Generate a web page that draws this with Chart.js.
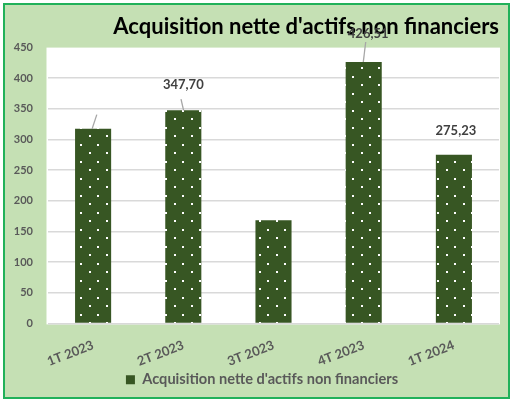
<!DOCTYPE html>
<html>
<head>
<meta charset="utf-8">
<script src="https://cdn.jsdelivr.net/npm/chart.js@4.4.1/dist/chart.umd.min.js"></script>
<style>
  html, body { margin: 0; padding: 0; width: 510px; height: 399px; overflow: hidden; background: #ffffff; }
  #frame { position: absolute; left: 3px; top: 3px; width: 503px; height: 392px;
           border: 2px solid #21b15a; background: #c5e0b4; }
  #wrap { position: absolute; left: 0; top: 0; width: 510px; height: 399px; }
</style>
</head>
<body>
<div id="frame"></div>
<div id="wrap"><canvas id="chart" width="510" height="399"></canvas></div>
<script>
// Quarterly net acquisition of non-financial assets
const categories = ['1T 2023', '2T 2023', '3T 2023', '4T 2023', '1T 2024'];
const seriesName = "Acquisition nette d'actifs non financiers";
const values = [317.4, 347.70, 168.3, 426.51, 275.23];
const yTickValues = [0, 50, 100, 150, 200, 250, 300, 350, 400, 450];
const showValueLabel = [false, true, false, true, true];

const FONT = 'Lato, "Open Sans", sans-serif';
const BAR_GREEN = '#375623';
const TEXT_GREY = '#595959';

// Dark green fill sprinkled with small white dots
function dottedFill() {
  const tile = document.createElement('canvas');
  tile.width = 17; tile.height = 17;
  const g = tile.getContext('2d');
  g.fillStyle = BAR_GREEN;
  g.fillRect(0, 0, 17, 17);
  g.fillStyle = '#ffffff';
  g.fillRect(4, 16, 2, 1);
  g.fillRect(4, 0, 2, 1);
  g.fillRect(12, 8, 2, 2);
  return g.createPattern(tile, 'repeat');
}

// Label placement relative to the top centre of each bar: [dx, dy]
const labelOffsets = [null, [0, -25], null, [4.5, -28.5], [2, -23.7]];
// Leader lines from label towards bar: [x1, y1, x2, y2] relative to bar top centre
const leaderLines = [[3.7, -14.2, -1, 0], [-2.3, -11.2, 0.3, 0], null, [2, -20, -0.4, 0], null];

const plotBackground = {
  id: 'plotBackground',
  beforeDraw(chart) {
    const { ctx, chartArea: a } = chart;
    ctx.save();
    ctx.fillStyle = '#ffffff';
    ctx.fillRect(a.left - 1.5, a.top, a.right - a.left + 2.5, a.bottom - a.top + 1);
    ctx.restore();
  }
};

// The legend sits centred under the plot rather than under the whole canvas
const legendShift = {
  id: 'legendShift',
  afterLayout(chart) {
    const lg = chart.legend;
    if (lg) { lg.left += 12.5; lg.right += 12.5; }
  }
};

const valueLabels = {
  id: 'valueLabels',
  afterDatasetsDraw(chart) {
    const { ctx } = chart;
    const bars = chart.getDatasetMeta(0).data;
    ctx.save();
    bars.forEach((bar, i) => {
      const ln = leaderLines[i];
      if (ln) {
        ctx.strokeStyle = '#a6a6a6';
        ctx.lineWidth = 1.3;
        ctx.beginPath();
        ctx.moveTo(bar.x + ln[0], bar.y + ln[1]);
        ctx.lineTo(bar.x + ln[2], bar.y + ln[3]);
        ctx.stroke();
      }
      if (showValueLabel[i]) {
        const off = labelOffsets[i];
        ctx.font = 'bold 13px ' + FONT;
        ctx.fillStyle = '#404040';
        ctx.textAlign = 'center';
        ctx.textBaseline = 'middle';
        ctx.fillText(values[i].toFixed(2).replace('.', ','), bar.x + off[0], bar.y + off[1]);
      }
    });
    ctx.restore();
  }
};

const ctx = document.getElementById('chart').getContext('2d');
new Chart(ctx, {
  type: 'bar',
  data: {
    labels: categories,
    datasets: [{
      label: seriesName,
      data: values,
      backgroundColor: dottedFill(),
      borderWidth: 0,
      barPercentage: 1,
      categoryPercentage: 0.4
    }]
  },
  options: {
    responsive: false,
    devicePixelRatio: 1,
    animation: false,
    layout: { padding: { left: 0, right: 11, top: 0, bottom: 2 } },
    scales: {
      x: {
        grid: { display: false, drawTicks: false },
        border: { display: false },
        ticks: {
          color: TEXT_GREY,
          font: { family: FONT, size: 13, weight: 'bold' },
          minRotation: 21,
          maxRotation: 21,
          padding: 14,
          autoSkip: false
        },
        afterFit(scale) { scale.height = 43; }
      },
      y: {
        min: 0,
        max: 450,
        afterBuildTicks(scale) { scale.ticks = yTickValues.map(v => ({ value: v })); },
        grid: {
          drawTicks: false,
          lineWidth: 1.5,
          color: c => (c.tick && c.tick.value === 450) ? 'rgba(0,0,0,0)' : '#d9d9d9'
        },
        border: { display: false },
        ticks: {
          color: TEXT_GREY,
          font: { family: FONT, size: 11, weight: 'bold' },
          padding: 15
        },
        afterFit(scale) { scale.width = 48; }
      }
    },
    plugins: {
      title: {
        display: true,
        text: seriesName,
        align: 'end',
        color: '#000000',
        font: { family: FONT, size: 22, weight: 'bold', lineHeight: 1.2 },
        padding: { top: 14, bottom: 7.2 }
      },
      legend: {
        position: 'bottom',
        labels: {
          color: TEXT_GREY,
          font: { family: FONT, size: 14.6, weight: 'bold' },
          boxWidth: 9,
          boxHeight: 9,
          padding: 6,
          generateLabels: () => [{
            text: seriesName,
            fillStyle: BAR_GREEN,
            strokeStyle: BAR_GREEN,
            lineWidth: 0,
            hidden: false,
            datasetIndex: 0,
            fontColor: TEXT_GREY
          }]
        }
      },
      tooltip: { enabled: false }
    }
  },
  plugins: [plotBackground, legendShift, valueLabels]
});
</script>
</body>
</html>
